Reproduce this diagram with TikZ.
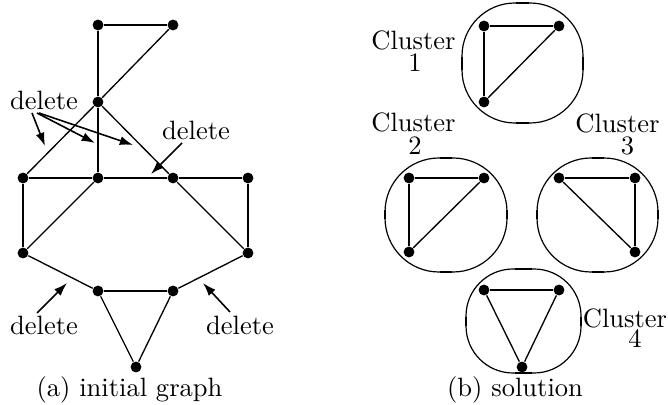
\documentclass[tikz,border=0pt]{standalone}
\usetikzlibrary{arrows.meta}
\newcommand\clusterbox[5]{%
  \pgfmathsetmacro\cbk{0.4477*#5}%
  \draw[clus] ({#1+#5},#2) -- ({#3-#5},#2)
    .. controls ({#3-#5+0.5523*#5},#2) and (#3,{#2+\cbk}) .. (#3,{#2+#5})
    -- (#3,{#4-#5})
    .. controls (#3,{#4-\cbk}) and ({#3-\cbk},#4) .. ({#3-#5},#4)
    -- ({#1+#5},#4)
    .. controls ({#1+\cbk},#4) and (#1,{#4-\cbk}) .. (#1,{#4-#5})
    -- (#1,{#2+#5})
    .. controls (#1,{#2+\cbk}) and ({#1+\cbk},#2) .. ({#1+#5},#2) -- cycle;}
\begin{document}
\begin{tikzpicture}[x=0.377pt,y=-0.377pt,
  vtx/.style={circle,fill=black,inner sep=0pt,minimum size=4.1pt},
  thk/.style={line width=1.1pt},
  thn/.style={line width=0.5pt},
  lbl/.style={inner sep=0pt,anchor=base},
  arr/.style={line width=0.6pt,-{Latex[length=5pt,width=3.4pt]}},
  clus/.style={line width=0.45pt},
  tick/.style={line width=0.9pt}]
\useasboundingbox (0,0) rectangle (668,405);
% ---------- (a) initial graph ----------
\node[vtx] (a1) at (98,25) {};
\node[vtx] (a2) at (173,25) {};
\node[vtx] (a3) at (98,102) {};
\node[vtx] (a4) at (23,178) {};
\node[vtx] (a5) at (98,178) {};
\node[vtx] (a6) at (173,178) {};
\node[vtx] (a7) at (248,178) {};
\node[vtx] (a8) at (23,253) {};
\node[vtx] (a9) at (248,253) {};
\node[vtx] (a10) at (98,291) {};
\node[vtx] (a11) at (173,291) {};
\node[vtx] (a12) at (136,367) {};
\draw[thk] (a1)--(a2) (a1)--(a3) (a3)--(a5) (a4)--(a5) (a5)--(a6) (a6)--(a7)
  (a4)--(a8) (a7)--(a9) (a10)--(a11);
\draw[thn] (a2)--(a3) (a3)--(a4) (a3)--(a6) (a5)--(a8) (a6)--(a9)
  (a8)--(a10) (a11)--(a9) (a10)--(a12) (a11)--(a12);
% delete labels
\node[lbl] (d1) at (44,110) {delete};
\node[lbl] (d2) at (196,140) {delete};
\node[lbl] (d3) at (44,335) {delete};
\node[lbl] (d4) at (240,335) {delete};
\coordinate (s1) at (32,113); \coordinate (t1) at (45,146);
\coordinate (s2) at (37,113); \coordinate (t2) at (95,143);
\coordinate (s3) at (39,113); \coordinate (t3) at (133,145);
\coordinate (s4) at (182,143); \coordinate (t4) at (151,174);
\coordinate (s5) at (37,313); \coordinate (t5) at (67,283);
\coordinate (s6) at (230,312); \coordinate (t6) at (203,283);
\draw[arr] (s1)--(t1);
\draw[arr] (s2)--(t2);
\draw[arr] (s3)--(t3);
\draw[arr] (s4)--(t4);
\draw[arr] (s5)--(t5);
\draw[arr] (s6)--(t6);
\node[lbl] (capa) at (129.5,396) {(a) initial graph};
% ---------- (b) solution ----------
% cluster outlines
\clusterbox{462}{3}{583}{123}{53}
\clusterbox{385}{158}{507}{272}{54}
\clusterbox{537}{158}{658}{272}{54}
\clusterbox{466}{269}{581}{373}{47}
\draw[tick] (516,3)--(529,3) (516,123)--(529,123) (462,57)--(462,70) (583,57)--(583,70);
\draw[tick] (440,158)--(452,158) (440,272)--(452,272) (385,210)--(385,219) (507,210)--(507,219);
\draw[tick] (592,158)--(604,158) (592,272)--(604,272) (537,210)--(537,219) (658,210)--(658,219);
\draw[tick] (515,269)--(532,269) (515,373)--(532,373) (466,317)--(466,326) (581,317)--(581,326);
% cluster 1
\node[vtx] (b1) at (484,26) {};
\node[vtx] (b2) at (559,26) {};
\node[vtx] (b3) at (484,102) {};
\draw[thk] (b1)--(b2) (b1)--(b3);
\draw[thn] (b2)--(b3);
% cluster 2
\node[vtx] (c1) at (409,178) {};
\node[vtx] (c2) at (484,178) {};
\node[vtx] (c3) at (409,252) {};
\draw[thk] (c1)--(c2) (c1)--(c3);
\draw[thn] (c2)--(c3);
% cluster 3
\node[vtx] (e1) at (559,178) {};
\node[vtx] (e2) at (635,178) {};
\node[vtx] (e3) at (635,252) {};
\draw[thk] (e1)--(e2) (e2)--(e3);
\draw[thn] (e1)--(e3);
% cluster 4
\node[vtx] (f1) at (484,290) {};
\node[vtx] (f2) at (559,290) {};
\node[vtx] (f3) at (522,367) {};
\draw[thk] (f1)--(f2);
\draw[thn] (f1)--(f3) (f2)--(f3);
% cluster labels
\node[lbl] (l1a) at (413.5,50) {Cluster};
\node[lbl] (l1b) at (415,72) {1};
\node[lbl] (l2a) at (413.5,132) {Cluster};
\node[lbl] (l2b) at (415,155) {2};
\node[lbl] (l3a) at (617.5,133) {Cluster};
\node[lbl] (l3b) at (627.5,155) {3};
\node[lbl] (l4a) at (625,327) {Cluster};
\node[lbl] (l4b) at (635,347) {4};
\node[lbl] (capb) at (515,396) {(b) solution};
\end{tikzpicture}
\end{document}
